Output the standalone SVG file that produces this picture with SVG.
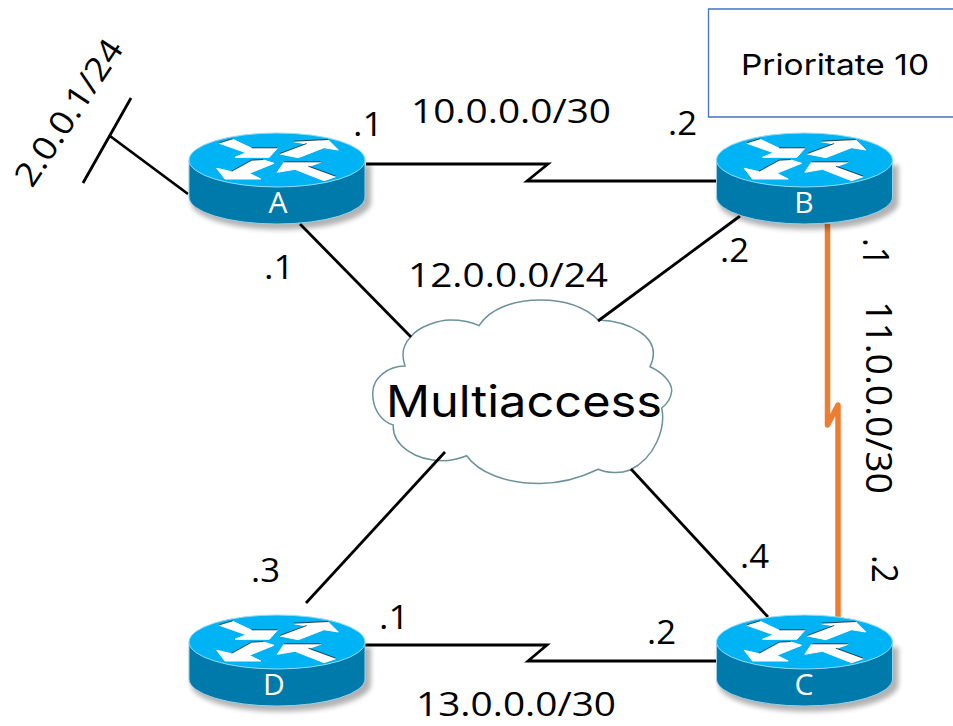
<svg xmlns="http://www.w3.org/2000/svg" width="953" height="726" viewBox="0 0 953 726">
<style>
.t{font-family:"Open Sans","Noto Sans",sans-serif;font-size:32px;fill:#000}
.r{font-family:"Open Sans","Noto Sans",sans-serif;font-size:36px;fill:#000}
.n{font-family:"Open Sans","Noto Sans",sans-serif;font-size:30px;fill:#fff;text-anchor:middle}
.c{fill:none;stroke:#000;stroke-width:2.800}
</style>
<defs>
<filter id="sh" x="-10%" y="-10%" width="125%" height="130%"><feGaussianBlur stdDeviation="2.500"/></filter>
<g id="router">
<path d="M-84 3V40A88 27 0 0 0 96 40V3Z" fill="#000" opacity=".3" filter="url(#sh)" transform="translate(-2 2)"/>
<path d="M-88 0V37A88 27 0 0 0 88 37V0Z" fill="#0079AB" stroke="#9CCFE2" stroke-width="1"/>
<ellipse cx="0" cy="0" rx="88" ry="27" fill="#00B3F5" stroke="#8FDDF8" stroke-width="1"/>
<g fill="#fff" stroke="#fff" stroke-width="1">
<path d="M-57.700-16.700-44.300-20.700-25.300-11.700 .3-11.700-7.700-2.700-42-2.700-31-7.300Z"/>
<path d="M3-6 29.700-16 17-18.300 51.300-20 61.300-10 47-12.300 21.300-2.300Z"/>
<path d="M-60.300 8.300-45.300 11.700-25.300 .7-13.700 0-3 3.300-27.700 13.300-16.300 19-52 19Z"/>
<path d="M.3 12.300 7 2.300 43.700 2.300 31.300 6.700 58.700 16.700 47 20.700 18 9.300Z"/>
</g>
<g fill="none" stroke="#000" stroke-width=".7">
<path d="M-57.700-17.200-44.300-21.200M-25.300-12.200 .3-12.200"/>
<path d="M3-6.500 29.700-16.500M17-18.800 51.300-20.500"/>
<path d="M-45.300 11.200-25.300 .2-13.700-.5"/>
<path d="M7 1.800 43.700 1.800M31.300 6.200 58.700 16.200"/>
</g>
</g>
</defs>
<g id="cloud">
<path d="M410 337.700C418 326 440 320 450 320C462 320 472 322 479 325.700C490 308 515 300 540 300C565 300 585 307 598.300 320C625 321 665 335 650 366.700C662 372 672 382 671.700 391C671 398 667 404 661.700 408C666 428 655 458 630 470C620 474 606 473 598.300 469.300C578 479 560 483.500 540 483.500C505 483.500 478 472 466.700 455.700C458 459 450 460.700 443 460.700C415 460.700 392 445 393.300 425C380 421 372.700 408 372.700 393C372.700 378 388 366 405 366C402 357 401 347 410 337.700Z" fill="#fff" stroke="#6B9299" stroke-width="1.500"/>
<text x="386" y="417" style="font-family:Inter,'Noto Sans',sans-serif;font-size:44px;fill:#000" textLength="276" lengthAdjust="spacingAndGlyphs">Multiaccess</text>
</g>
<g id="connectors">
<path class="c" d="M366 164H548L527 181H717"/>
<path class="c" d="M365 645H547L528 661H717"/>
<path class="c" d="M300 224 411 337"/>
<path class="c" d="M740 216 598 321"/>
<path class="c" d="M306 603 445 452"/>
<path class="c" d="M768 617 631 469"/>
<path class="c" d="M83 183 131 98M110 136 188 194"/>
<path d="M827.500 224V425L838 405V617" fill="none" stroke="#ED7D31" stroke-width="5.500" stroke-linejoin="round"/>
</g>
<g id="priority-box">
<path d="M953 9H708.500V117H953" fill="none" stroke="#4472C4" stroke-width="1.300"/>
<text x="741" y="75" style="font-family:Inter,'Noto Sans',sans-serif;font-size:29px;fill:#000" textLength="188" lengthAdjust="spacingAndGlyphs">Prioritate 10</text>
</g>
<g id="router-a"><use href="#router" x="277" y="160"/><text class="n" x="278" y="213">A</text></g>
<g id="router-b"><use href="#router" x="804.500" y="160"/><text class="n" x="804" y="213">B</text></g>
<g id="router-c"><use href="#router" x="804.500" y="642"/><text class="n" x="804" y="695">C</text></g>
<g id="router-d"><use href="#router" x="277" y="642"/><text class="n" x="274" y="695">D</text></g>
<g id="labels">
<text class="t" x="411" y="123" textLength="200" lengthAdjust="spacingAndGlyphs">10.0.0.0/30</text>
<text class="t" x="408" y="287" textLength="200" lengthAdjust="spacingAndGlyphs">12.0.0.0/24</text>
<text class="t" x="416" y="716" textLength="200" lengthAdjust="spacingAndGlyphs">13.0.0.0/30</text>
<text class="t" x="353" y="136" textLength="30" lengthAdjust="spacingAndGlyphs">.1</text>
<text class="t" x="668" y="135" textLength="29" lengthAdjust="spacingAndGlyphs">.2</text>
<text class="t" x="264" y="279" textLength="30" lengthAdjust="spacingAndGlyphs">.1</text>
<text class="t" x="720" y="262" textLength="29" lengthAdjust="spacingAndGlyphs">.2</text>
<text class="t" x="251" y="582" textLength="29" lengthAdjust="spacingAndGlyphs">.3</text>
<text class="t" x="379" y="629" textLength="30" lengthAdjust="spacingAndGlyphs">.1</text>
<text class="t" x="647" y="644" textLength="29" lengthAdjust="spacingAndGlyphs">.2</text>
<text class="t" x="740" y="568" textLength="29" lengthAdjust="spacingAndGlyphs">.4</text>
<text class="r" transform="translate(863 238) rotate(90)" textLength="28" lengthAdjust="spacingAndGlyphs">.1</text>
<text class="r" transform="translate(866 301) rotate(90)" textLength="193" lengthAdjust="spacingAndGlyphs">11.0.0.0/30</text>
<text class="r" transform="translate(872 555) rotate(90)" textLength="28" lengthAdjust="spacingAndGlyphs">.2</text>
<text class="r" transform="translate(32 189) rotate(-56.600)" textLength="168" lengthAdjust="spacingAndGlyphs" style="font-size:33px">2.0.0.1/24</text>
</g>
</svg>
